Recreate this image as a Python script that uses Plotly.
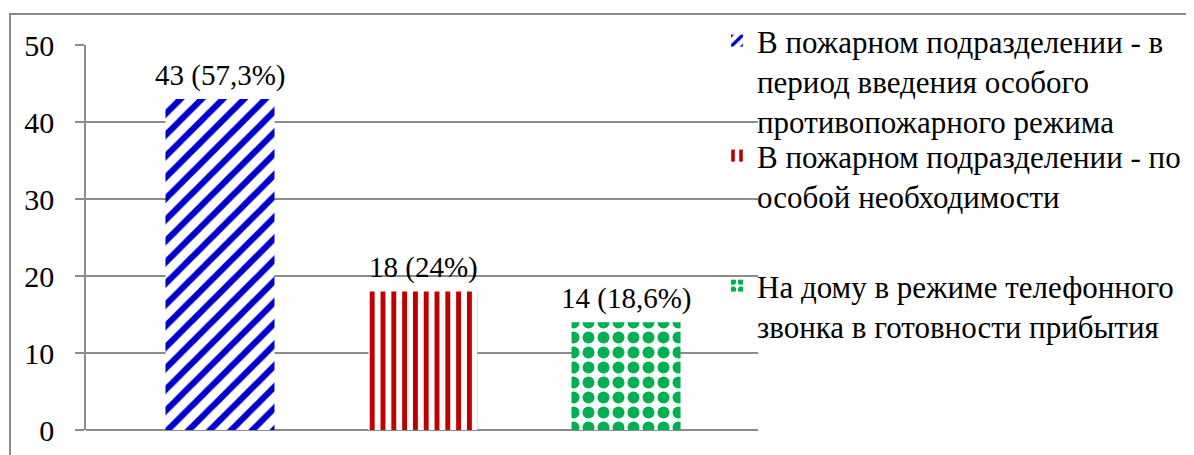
import plotly.graph_objects as go

# ---- data ----
categories = [
    "В пожарном подразделении - в<br>период введения особого<br>противопожарного режима",
    "В пожарном подразделении - по<br>особой необходимости",
    "На дому в режиме телефонного<br>звонка в готовности прибытия",
]
values = [43, 18, 14]
value_labels = ["43 (57,3%)", "18 (24%)", "14 (18,6%)"]
y_ticks = [0, 10, 20, 30, 40, 50]

# ---- styles ----
fg_colors = ["#0000CC", "#C00000", "#00B050"]
pattern_shapes = ["/", "|", "."]
pattern_sizes = [15, 10.8, 15]
pattern_solidity = [0.42, 0.45, 0.5]
legend_names = ["legend", "legend2", "legend3"]
legend_tops = [14, 129, 259]  # px from top of figure

OFF = 8  # page body margin
W, H = 1194, 455
PL, PR, PT, PB = 86 - OFF, 758 - OFF, 45 - OFF, 430 - OFF
FONT = "Liberation Serif"
GRID = "#8c8c8c"


def px_x(px):
    return (px - OFF - PL) / (PR - PL)


def px_y(py):
    return (PB - (py - OFF)) / (PB - PT)


fig = go.Figure()
for i, (name, v) in enumerate(zip(categories, values)):
    fig.add_trace(go.Bar(
        x=[i], y=[v], name=name, width=0.537,
        marker=dict(
            color=fg_colors[i],
            line=dict(width=0),
            pattern=dict(shape=pattern_shapes[i], fgcolor=fg_colors[i],
                         bgcolor="white", size=pattern_sizes[i],
                         solidity=pattern_solidity[i], fillmode="replace"),
        ),
        legend=legend_names[i],
        hoverinfo="skip",
    ))
    fig.add_annotation(x=i, y=v, text=value_labels[i], showarrow=False,
                       yanchor="bottom", yshift=5,
                       font=dict(family=FONT, size=29, color="black"))

legend_common = dict(
    xref="container", yref="container", xanchor="left", yanchor="top",
    font=dict(family=FONT, size=31, color="black"), valign="top",
    bgcolor="rgba(0,0,0,0)", borderwidth=0, itemsizing="constant",
)
layout_legends = {}
for name, top in zip(legend_names, legend_tops):
    layout_legends[name] = dict(legend_common, x=(717 - OFF) / W, y=1 - (top - OFF) / H)

fig.update_layout(
    width=W, height=H,
    margin=dict(l=PL, r=W - PR, t=PT, b=H - PB, autoexpand=False),
    paper_bgcolor="white", plot_bgcolor="white",
    showlegend=True,
    barmode="overlay",
    xaxis=dict(range=[-0.66, 2.65], showticklabels=False, showgrid=False,
               zeroline=False, showline=False, ticks=""),
    yaxis=dict(range=[0, 50], tickvals=y_ticks, showgrid=True, gridcolor=GRID,
               gridwidth=1.5, zeroline=True, zerolinecolor=GRID, zerolinewidth=1.5,
               showline=True, linecolor=GRID, linewidth=1.5,
               ticks="outside", ticklen=9, tickcolor=GRID, tickwidth=1.5,
               ticklabelstandoff=15,
               tickfont=dict(family=FONT, size=30, color="black")),
    shapes=[dict(type="rect", xref="paper", yref="paper",
                 x0=px_x(10), x1=px_x(1196), y0=px_y(462), y1=px_y(14),
                 line=dict(color="#8a8a8a", width=2), layer="below")],
    **layout_legends,
)

fig.write_html("out.html")
